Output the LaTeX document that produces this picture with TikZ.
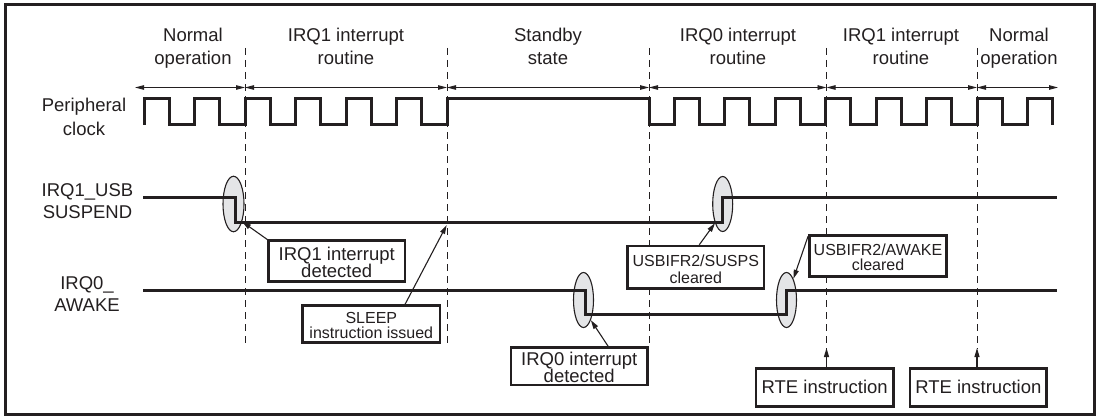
\documentclass[tikz,border=0pt]{standalone}
\usepackage{fontspec}
\setmainfont{Liberation Sans}
\usetikzlibrary{arrows.meta,shapes.geometric}
\definecolor{ink}{HTML}{231F20}
\definecolor{ovalfill}{HTML}{E4E5E7}
\newcommand\fbig{\fontsize{18.5}{22}\selectfont}
\newcommand\fsmall{\fontsize{16}{15}\selectfont}
\tikzset{
  sig/.style={draw=ink, line width=3pt},
  vdash/.style={draw=ink, line width=1pt, dash pattern=on 7pt off 5pt},
  span/.style={draw=ink, line width=0.9pt, {Triangle[length=9pt,width=4.5pt]}-{Triangle[length=9pt,width=4.5pt]}},
  note/.style={draw=ink, line width=1.1pt, -{Triangle[length=9pt,width=5pt]}},
  callbox/.style={draw=ink, fill=white, line width=2.6pt, rectangle, inner sep=0pt},
  oval/.style={ellipse, draw=ink, fill=ovalfill, line width=1.1pt, inner sep=0pt},
  big/.style={text=ink, font=\fbig, inner sep=0pt, anchor=base},
  small/.style={text=ink, font=\fsmall, inner sep=0pt, anchor=base},
}
\begin{document}
\begin{tikzpicture}[x=1pt,y=-1pt]
\useasboundingbox (0,0) rectangle (1103,420);
\draw[draw=ink, line width=3pt] (5,5) rectangle (1094.5,414.5);

% top phase labels
\node[big] (n1a) at (193,41.7) {Normal};
\node[big] (n1b) at (193,64.3) {operation};
\node[big] (n2a) at (346,41.7) {IRQ1 interrupt};
\node[big] (n2b) at (346,64.3) {routine};
\node[big] (n3a) at (548,41.7) {Standby};
\node[big] (n3b) at (548,64.3) {state};
\node[big] (n4a) at (738,41.7) {IRQ0 interrupt};
\node[big] (n4b) at (738,64.3) {routine};
\node[big] (n5a) at (901,41.7) {IRQ1 interrupt};
\node[big] (n5b) at (901,64.3) {routine};
\node[big] (n6a) at (1019,41.7) {Normal};
\node[big] (n6b) at (1019,64.3) {operation};

% phase span arrows
\coordinate (p0) at (135,87.5);
\coordinate (p1) at (245,87.5);
\coordinate (p2) at (447,87.5);
\coordinate (p3) at (649,87.5);
\coordinate (p4) at (826.5,87.5);
\coordinate (p5) at (977,87.5);
\coordinate (p6) at (1058,87.5);
\draw[span] (p0) -- (p1);
\draw[span] (p1) -- (p2);
\draw[span] (p2) -- (p3);
\draw[span] (p3) -- (p4);
\draw[span] (p4) -- (p5);
\draw[span] (p5) -- (p6);

% dashed boundaries
\draw[vdash] (245,48) -- (245,347);
\draw[vdash] (447,48) -- (447,347);
\draw[vdash] (649,48) -- (649,347);
\draw[vdash] (826.5,48) -- (826.5,349);
\draw[vdash] (977,48) -- (977,349);

% signal names
\node[big] (s1a) at (84,111.7) {Peripheral};
\node[big] (s1b) at (84,135) {clock};
\node[big] (s2a) at (87.5,196.7) {IRQ1\_USB};
\node[big] (s2b) at (87.5,218.3) {SUSPEND};
\node[big] (s3a) at (87,289.5) {IRQ0\_};
\node[big] (s3b) at (87,311.7) {AWAKE};

% ovals
\node[oval, minimum width=21pt, minimum height=55.5pt] (e1) at (233.5,204) {};
\node[oval, minimum width=20pt, minimum height=55pt] (e2) at (722.7,204) {};
\node[oval, minimum width=20pt, minimum height=55pt] (e3) at (583.5,300) {};
\node[oval, minimum width=20pt, minimum height=55pt] (e4) at (786.5,300) {};

% peripheral clock
\draw[sig] (144,124.5)
  \foreach \r in {144,194.5,245,295.5,346,396.5} { -- (\r,124.5) -- (\r,98.5) -- (\r+25.25,98.5) -- (\r+25.25,124.5) }
  -- (447,124.5) -- (447,98.5) -- (649,98.5) -- (649,124.5)
  \foreach \r in {674,724.5,775,825.5,876,926.5,977,1027.5} { -- (\r,124.5) -- (\r,98.5) -- (\r+25.25,98.5) -- (\r+25.25,124.5) };

% IRQ1_USB SUSPEND
\draw[sig] (143.3,197.5) -- (235,197.5) -- (235,222.5) -- (722.7,222.5) -- (722.7,197.5) -- (1056.7,197.5);
% IRQ0_AWAKE
\draw[sig] (143.3,290.5) -- (585,290.5) -- (585,314.5) -- (786.7,314.5) -- (786.7,290.5) -- (1056.7,290.5);

% call-out boxes
\node[callbox, minimum width=136.7pt, minimum height=41pt] (b1) at (336.7,261.2) {};
\node[big] (b1a) at (336.7,260.7) {IRQ1 interrupt};
\node[big] (b1b) at (336.7,277.2) {detected};

\node[callbox, minimum width=137.3pt, minimum height=37pt] (b2) at (371.3,324.2) {};
\node[small] (b2a) at (371.3,323.3) {SLEEP};
\node[small] (b2b) at (371.3,338.3) {instruction issued};

\node[callbox, minimum width=136.3pt, minimum height=42.3pt] (b3) at (695.8,267.2) {};
\node[small] (b3a) at (695.8,266.7) {USBIFR2/SUSPS};
\node[small] (b3b) at (695.8,283.3) {cleared};

\node[callbox, minimum width=136.3pt, minimum height=37.3pt] (b4) at (579.2,366.3) {};
\node[big] (b4a) at (579.2,365.6) {IRQ0 interrupt};
\node[big] (b4b) at (579.2,382.9) {detected};

\node[callbox, minimum width=137.4pt, minimum height=41pt] (b5) at (878,256.2) {};
\node[small] (b5a) at (878,255) {USBIFR2/AWAKE};
\node[small] (b5b) at (878,270.7) {cleared};

\node[callbox, minimum width=137.3pt, minimum height=38.4pt] (b6) at (824.7,387.5) {};
\node[big] (b6a) at (824.7,393.3) {RTE instruction};
\node[callbox, minimum width=136.7pt, minimum height=38.4pt] (b7) at (978.3,387.5) {};
\node[big] (b7a) at (978.3,393.3) {RTE instruction};

% pointers
\coordinate (sleeppt) at (446.7,225);
\coordinate (rte1) at (826.5,348);
\coordinate (rte2) at (977,348);
\draw[note] ([xshift=1.5pt,yshift=-1pt]b1.north west) -- (e1.-64);
\draw[note] ([xshift=33.7pt]b2.north) -- (sleeppt);
\draw[note] ([xshift=3.5pt]b3.north) -- (e2.-112);
\draw[note] ([xshift=29pt]b4.north) -- (e3.-70);
\draw[note] ([yshift=-2pt]b5.north west) -- (e4.72);
\draw[note] (b6.north -| rte1) -- (rte1);
\draw[note] (b7.north -| rte2) -- (rte2);
\end{tikzpicture}
\end{document}
